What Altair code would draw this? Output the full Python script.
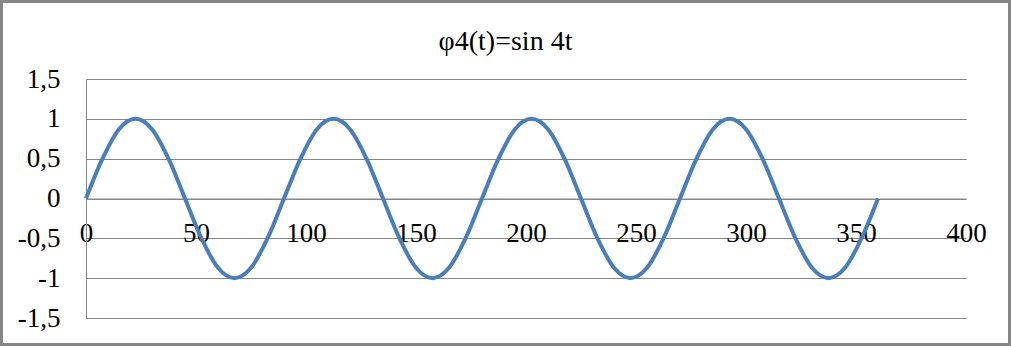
import altair as alt
import pandas as pd

# t in degrees (sin 4t)
t_values = [0, 7.5, 15, 22.5, 30, 37.5, 45, 52.5, 60, 67.5, 75, 82.5,
            90, 97.5, 105, 112.5, 120, 127.5, 135, 142.5, 150, 157.5, 165, 172.5,
            180, 187.5, 195, 202.5, 210, 217.5, 225, 232.5, 240, 247.5, 255, 262.5,
            270, 277.5, 285, 292.5, 300, 307.5, 315, 322.5, 330, 337.5, 345, 352.5,
            360]
phi_values = [0, 0.5, 0.87, 1, 0.87, 0.5, 0, -0.5, -0.87, -1, -0.87, -0.5,
              0, 0.5, 0.87, 1, 0.87, 0.5, 0, -0.5, -0.87, -1, -0.87, -0.5,
              0, 0.5, 0.87, 1, 0.87, 0.5, 0, -0.5, -0.87, -1, -0.87, -0.5,
              0, 0.5, 0.87, 1, 0.87, 0.5, 0, -0.5, -0.87, -1, -0.87, -0.5,
              0]
x_ticks = [0, 50, 100, 150, 200, 250, 300, 350, 400]
y_ticks = [-1.5, -1, -0.5, 0, 0.5, 1, 1.5]
title_text = "φ4(t)=sin 4t"

df = pd.DataFrame({"t": t_values, "phi": phi_values})

W, H = 880, 239
FONT = "Liberation Serif"
GRAY = "#868686"

line = alt.Chart(df).mark_line(
    color="#4a7ebb", strokeWidth=4, interpolate="monotone", clip=False
).encode(
    x=alt.X("t:Q", scale=alt.Scale(domain=[0, 400], nice=False),
            axis=alt.Axis(values=x_ticks, title=None, grid=False, ticks=False, tickSize=0,
                          domain=True, domainColor=GRAY, domainWidth=1,
                          offset=-119.5, labelFont=FONT, labelFontSize=27,
                          labelColor="black", labelBaseline="alphabetic",
                          labelPadding=43, labelAngle=0, labelFlush=False,
                          labelOverlap=False)),
    y=alt.Y("phi:Q", scale=alt.Scale(domain=[-1.5, 1.5], nice=False, zero=False),
            axis=alt.Axis(values=y_ticks, title=None, grid=True, gridColor=GRAY,
                          gridWidth=1, ticks=False, tickSize=0, domain=True,
                          domainColor=GRAY, domainWidth=1, labelFont=FONT,
                          labelFontSize=27, labelColor="black", labelPadding=26,
                          labelOverlap=False, labelFlush=False,
                          labelExpr="replace(toString(datum.value), '.', ',')")),
)

title = alt.Chart(alt.Data(values=[{"label": title_text}])).mark_text(
    font=FONT, fontSize=28, color="black", align="center", baseline="alphabetic"
).encode(
    text="label:N", x=alt.value(419.5), y=alt.value(-29)
)

border = alt.Chart(alt.Data(values=[{"a": 1}])).mark_rect(
    filled=False, stroke=GRAY, strokeWidth=3
).encode(
    x=alt.value(-84.5), x2=alt.value(923.5), y=alt.value(-77.5), y2=alt.value(265.5)
)

chart = alt.layer(line, title, border).properties(
    width=W, height=H,
    autosize=alt.AutoSizeParams(type="none"),
    padding={"left": 86, "top": 79, "right": 45, "bottom": 28},
    background="white",
).configure_view(stroke=None)

chart.save("out.html", embed_options={"renderer": "svg", "actions": False})
